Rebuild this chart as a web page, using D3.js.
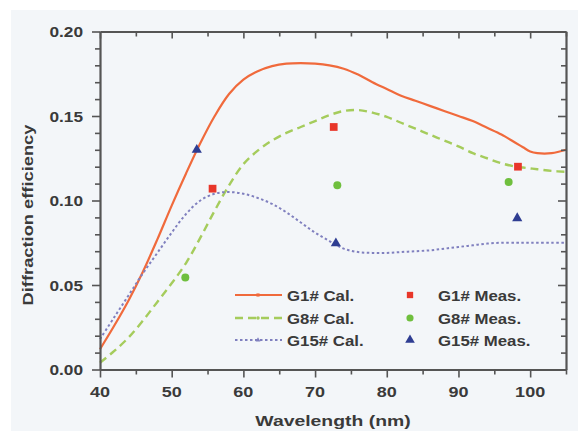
<!DOCTYPE html>
<html>
<head>
<meta charset="utf-8">
<script src="https://d3js.org/d3.v7.min.js"></script>
<style>
  body { margin: 0; background: #fff; }
  text { font-family: "Liberation Sans", Arial, sans-serif; fill: #3a3a3a; }
</style>
</head>
<body>
<div id="chart"></div>
<script>

// calculated curves (wavelength nm -> diffraction efficiency)
const calX = [40, 42, 44, 46, 48, 50, 52, 54, 56, 58, 60, 62, 64, 66, 68, 70, 72, 74, 76, 78, 80, 82, 84, 86, 88, 90, 92, 94, 96, 98, 99, 100, 101, 103, 105];
const g1Cal = [0.012, 0.026, 0.041, 0.058, 0.077, 0.097, 0.116, 0.134, 0.150, 0.163, 0.1715, 0.1765, 0.1795, 0.181, 0.1813, 0.181, 0.180, 0.178, 0.1745, 0.170, 0.166, 0.162, 0.159, 0.156, 0.153, 0.150, 0.147, 0.143, 0.139, 0.134, 0.1315, 0.129, 0.128, 0.128, 0.130];
const g8Cal = [0.004, 0.011, 0.019, 0.029, 0.040, 0.051, 0.063, 0.078, 0.094, 0.109, 0.1215, 0.1295, 0.1355, 0.140, 0.1435, 0.147, 0.1505, 0.153, 0.1535, 0.152, 0.1495, 0.146, 0.1425, 0.139, 0.1355, 0.132, 0.128, 0.125, 0.122, 0.120, 0.1195, 0.119, 0.1185, 0.1175, 0.117];
const g15Cal = [0.018, 0.031, 0.044, 0.057, 0.069, 0.081, 0.092, 0.100, 0.104, 0.105, 0.104, 0.1015, 0.098, 0.093, 0.087, 0.081, 0.076, 0.0715, 0.0695, 0.069, 0.069, 0.0695, 0.070, 0.0705, 0.0715, 0.0725, 0.0735, 0.0745, 0.075, 0.075, 0.075, 0.075, 0.075, 0.075, 0.075];

// measured points
const g1MeasX = [55.7, 72.6, 98.3];
const g1Meas = [0.107, 0.1435, 0.120];
const g8MeasX = [51.9, 73.1, 97.0];
const g8Meas = [0.0545, 0.109, 0.111];
const g15MeasX = [53.5, 72.9, 98.2];
const g15Meas = [0.130, 0.0746, 0.0895];

const xTicks = [40, 50, 60, 70, 80, 90, 100];
const yTicks = [0.00, 0.05, 0.10, 0.15, 0.20];
const calLabels = ["G1# Cal.", "G8# Cal.", "G15# Cal."];
const measLabels = ["G1# Meas.", "G8# Meas.", "G15# Meas."];

const W = 578, H = 437;
const mLeft = 100, mRight = 566, mTop = 31.5, mBottom = 369.5;

const svg = d3.select("#chart").append("svg")
    .attr("width", W).attr("height", H);

svg.append("rect")
    .attr("x", 11).attr("y", 10).attr("width", W - 11).attr("height", 421)
    .attr("fill", "#f3f6f9");

const x = d3.scaleLinear().domain([40, 105]).range([mLeft, mRight]);
const y = d3.scaleLinear().domain([0, 0.20]).range([mBottom, mTop]);

// stretch text horizontally, the original font runs wide
function widen(sel, k) {
  sel.each(function() {
    const w = this.getComputedTextLength();
    d3.select(this).attr("textLength", w * k).attr("lengthAdjust", "spacingAndGlyphs");
  });
}

const axisCol = "#555";

// curves
const line = d3.line().curve(d3.curveCatmullRom)
    .x(d => x(d[0])).y(d => y(d[1]));

const series = [
  {vals: g1Cal, color: "#f06a3c", dash: null, width: 2.2},
  {vals: g8Cal, color: "#a5cc5c", dash: "8,5", width: 2.4},
  {vals: g15Cal, color: "#8080bf", dash: "2.5,2.5", width: 2}
];

const plot = svg.append("g");
plot.selectAll("path.cal")
  .data(series)
  .join("path")
    .attr("class", "cal")
    .attr("fill", "none")
    .attr("stroke", d => d.color)
    .attr("stroke-width", d => d.width)
    .attr("stroke-dasharray", d => d.dash)
    .attr("d", d => line(calX.map((v, i) => [v, d.vals[i]])));

// markers
const symTypes = [d3.symbolSquare, d3.symbolCircle, d3.symbolTriangle];
const symSizes = [60, 50, 45];

const meas = [
  {xs: g1MeasX, ys: g1Meas, color: "#e8362a"},
  {xs: g8MeasX, ys: g8Meas, color: "#6fbf3e"},
  {xs: g15MeasX, ys: g15Meas, color: "#2e3d92"}
];

meas.forEach((m, k) => {
  plot.selectAll(null)
    .data(m.xs.map((v, i) => [v, m.ys[i]]))
    .join("path")
      .attr("d", d3.symbol().type(symTypes[k]).size(symSizes[k]))
      .attr("fill", m.color)
      .attr("transform", d => `translate(${x(d[0])},${y(d[1])})`);
});

// axes
const gx = svg.append("g").attr("transform", `translate(0,${mBottom})`)
  .call(d3.axisBottom(x).tickValues(d3.range(40, 106, 5)).tickSize(0).tickFormat(""));
const gxTop = svg.append("g").attr("transform", `translate(0,${mTop})`)
  .call(d3.axisTop(x).tickValues(d3.range(40, 106, 5)).tickSize(0).tickFormat(""));
const gy = svg.append("g").attr("transform", `translate(${mLeft},0)`)
  .call(d3.axisLeft(y).tickValues(d3.range(0, 0.201, 0.01)).tickSize(0).tickFormat(""));
const gyR = svg.append("g").attr("transform", `translate(${mRight},0)`)
  .call(d3.axisRight(y).tickValues(d3.range(0, 0.201, 0.01)).tickSize(0).tickFormat(""));

[gx, gxTop, gy, gyR].forEach(g => {
  g.select(".domain").attr("stroke", axisCol).attr("stroke-width", 2.2);
  g.selectAll(".tick line").attr("stroke", axisCol).attr("stroke-width", 1.6);
});

const isMajorX = v => Math.abs(v % 10) < 1e-6;
const isMajorY = v => Math.round(v * 100) % 5 === 0;

gx.selectAll(".tick line").attr("y2", d => isMajorX(d) ? 8 : 5);
gxTop.selectAll(".tick line").attr("y2", d => isMajorX(d) ? 7 : 5);
gy.selectAll(".tick line").attr("x2", d => isMajorY(d) ? -8 : -5);
gyR.selectAll(".tick line").attr("x2", d => isMajorY(d) ? -8 : -5);

// tick labels
svg.append("g").selectAll("text")
  .data(xTicks)
  .join("text")
    .attr("x", d => x(d))
    .attr("y", 397)
    .attr("text-anchor", "middle")
    .style("font-size", "15px")
    .style("font-weight", "bold")
    .text(d => d)
    .call(widen, 1.2);

svg.append("g").selectAll("text")
  .data(yTicks)
  .join("text")
    .attr("x", 83)
    .attr("y", d => y(d) + 5.5)
    .attr("text-anchor", "end")
    .style("font-size", "15px")
    .style("font-weight", "bold")
    .text(d => d.toFixed(2))
    .call(widen, 1.15);

// axis titles
svg.append("text")
    .attr("x", 333).attr("y", 426)
    .attr("text-anchor", "middle")
    .style("font-size", "15.5px")
    .style("font-weight", "bold")
    .text("Wavelength (nm)")
    .call(widen, 1.25);

svg.append("text")
    .attr("transform", "translate(33,215) rotate(-90)")
    .attr("text-anchor", "middle")
    .style("font-size", "15.5px")
    .style("font-weight", "bold")
    .text("Diffraction efficiency")
    .call(widen, 1.18);

// legend
const rows = [297, 320, 342];
const lg = svg.append("g");
series.forEach((s, i) => {
  lg.append("line")
    .attr("x1", 235).attr("x2", 282)
    .attr("y1", rows[i] - 2).attr("y2", rows[i] - 2)
    .attr("stroke", s.color).attr("stroke-width", s.width)
    .attr("stroke-dasharray", s.dash);
  lg.append("path")
    .attr("d", d3.symbol().type(symTypes[i]).size(10))
    .attr("fill", s.color)
    .attr("transform", `translate(258,${rows[i] - 2})`);
  lg.append("text")
    .attr("x", 287).attr("y", rows[i] + 4)
    .style("font-size", "15px")
    .style("font-weight", "bold")
    .text(calLabels[i])
    .call(widen, 1.12);
});
meas.forEach((m, i) => {
  lg.append("path")
    .attr("d", d3.symbol().type(symTypes[i]).size(40))
    .attr("fill", m.color)
    .attr("transform", `translate(410,${rows[i] - 2})`);
  lg.append("text")
    .attr("x", 438).attr("y", rows[i] + 4)
    .style("font-size", "15px")
    .style("font-weight", "bold")
    .text(measLabels[i])
    .call(widen, 1.12);
});

</script>
</body>
</html>
